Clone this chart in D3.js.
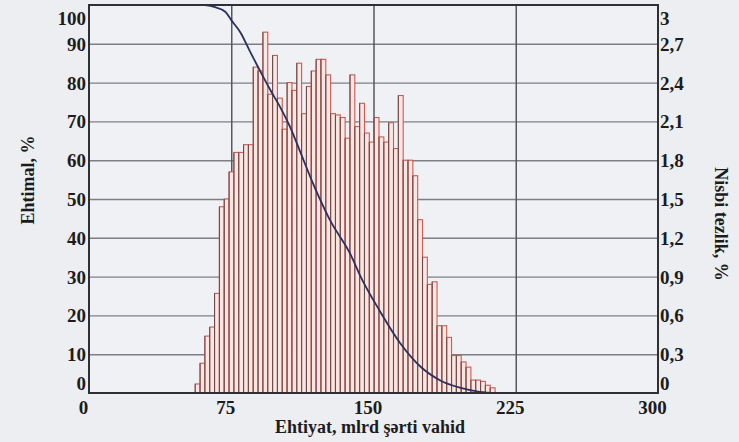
<!DOCTYPE html>
<html>
<head>
<meta charset="utf-8">
<script src="https://cdn.jsdelivr.net/npm/d3@7"></script>
<style>
    body { margin: 0; background: #eceef1; }
    svg text {
        font-family: "Liberation Serif", "Times New Roman", serif;
        font-weight: bold;
        fill: #1c1c1c;
    }
</style>
</head>
<body>
<svg id="chart" width="739" height="442"></svg>
<script>
// === DATA ===

// histogram bins (Ehtiyat, mlrd şərti vahid) -> relative frequency, %
const BIN_START = 56;
const BIN_WIDTH = 2.55;
const FREQ = [
    0.07, 0.23, 0.44, 0.51, 0.77, 1.44, 1.50, 1.71, 1.86, 1.86,
    1.92, 1.92, 2.52, 2.49, 2.79, 2.31, 2.61, 2.28, 2.04, 2.40,
    2.34, 2.55, 2.16, 2.37, 2.49, 2.58, 2.58, 2.46, 2.16, 2.15,
    2.13, 1.97, 2.46, 2.06, 2.24, 2.01, 1.94, 2.13, 1.98, 1.94,
    2.09, 1.89, 2.30, 1.80, 1.80, 1.68, 1.34, 1.05, 0.84, 0.86,
    0.52, 0.52, 0.43, 0.29, 0.29, 0.24, 0.20, 0.10, 0.10, 0.09,
    0.06, 0.04
];

// exceedance probability curve (Ehtimal, %)
const CURVE_X = [56, 61, 66, 72, 75, 80, 85, 90, 95, 101, 106, 111, 119, 122, 127, 138, 143, 153, 164, 175, 185, 196, 206, 215];
const CURVE_Y = [100, 100, 99.5, 98.2, 96.1, 92.8, 87.9, 83.2, 78.6, 73.5, 68.6, 62.6, 53, 49.7, 44.6, 35.6, 30.2, 21.4, 12.9, 6.7, 3.3, 1.3, 0.3, 0];

const X_TICKS = [0, 75, 150, 225, 300];
const LEFT_TICKS = [0, 10, 20, 30, 40, 50, 60, 70, 80, 90, 100];
const RIGHT_TICKS = [0, 0.3, 0.6, 0.9, 1.2, 1.5, 1.8, 2.1, 2.4, 2.7, 3];

const X_TITLE = 'Ehtiyat, mlrd şərti vahid';
const LEFT_TITLE = 'Ehtimal, %';
const RIGHT_TITLE = 'Nisbi tezlik, %';

// === LAYOUT ===

const W = 739, H = 442;
const margin = { top: 5, right: 81, bottom: 49, left: 89 };
const innerW = W - margin.left - margin.right;
const innerH = H - margin.top - margin.bottom;

const svg = d3.select('#chart');
const g = svg.append('g').attr('transform', `translate(${margin.left},${margin.top})`);

const x = d3.scaleLinear().domain([0, 300]).range([0, innerW]);
const yL = d3.scaleLinear().domain([0, 100]).range([innerH, 0]);
const yR = d3.scaleLinear().domain([0, 3]).range([innerH, 0]);

// plot background
g.append('rect')
    .attr('width', innerW).attr('height', innerH)
    .attr('fill', '#eff1f4');

// --- grid ---
g.append('g')
    .call(d3.axisLeft(yL).tickValues(LEFT_TICKS.filter(d => d > 0 && d < 100)).tickSize(-innerW).tickFormat(''))
    .call(a => a.select('.domain').remove())
    .selectAll('line').attr('stroke', '#7d7f84').attr('stroke-width', 1.4);

g.append('g')
    .attr('transform', `translate(0,${innerH})`)
    .call(d3.axisBottom(x).tickValues(X_TICKS.filter(d => d > 0 && d < 300)).tickSize(-innerH).tickFormat(''))
    .call(a => a.select('.domain').remove())
    .selectAll('line').attr('stroke', '#55585e').attr('stroke-width', 1.5);

// --- histogram bars ---
const bars = g.append('g');
bars.selectAll('rect')
    .data(FREQ)
    .join('rect')
    .attr('x', (d, i) => x(BIN_START + i * BIN_WIDTH))
    .attr('y', d => yR(d))
    .attr('width', x(BIN_WIDTH) - x(0))
    .attr('height', d => yR(0) - yR(d))
    .attr('fill', '#f7e6e2')
    .attr('stroke', '#c95c55')
    .attr('stroke-width', 1.1);

// darker left edge of every bar (overlapping outlines in the original)
bars.selectAll('line')
    .data(FREQ)
    .join('line')
    .attr('x1', (d, i) => x(BIN_START + i * BIN_WIDTH))
    .attr('x2', (d, i) => x(BIN_START + i * BIN_WIDTH))
    .attr('y1', d => yR(d))
    .attr('y2', innerH)
    .attr('stroke', '#6a4a4c')
    .attr('stroke-width', 1);

// --- probability curve ---
const line = d3.line()
    .x(d => x(d[0]))
    .y(d => yL(d[1]))
    .curve(d3.curveMonotoneX);

g.append('path')
    .datum(d3.zip(CURVE_X, CURVE_Y))
    .attr('d', line)
    .attr('fill', 'none')
    .attr('stroke', '#2c305c')
    .attr('stroke-width', 1.8);

// --- frame ---
g.append('rect')
    .attr('width', innerW).attr('height', innerH)
    .attr('fill', 'none')
    .attr('stroke', '#2e3035')
    .attr('stroke-width', 2);

// --- axes labels ---
// the end labels (0 and the top value) sit inside the frame in the original
const endShift = v => v === 0 ? -10 : (v === 100 || v === 3 ? 13 : 0);

const left = g.append('g')
    .call(d3.axisLeft(yL).tickValues(LEFT_TICKS).tickSize(0).tickPadding(3));
left.select('.domain').remove();
left.selectAll('text')
    .attr('font-size', 19)
    .attr('dy', d => (0.34 + endShift(d) / 19) + 'em');

const right = g.append('g')
    .attr('transform', `translate(${innerW},0)`)
    .call(d3.axisRight(yR).tickValues(RIGHT_TICKS).tickSize(0).tickPadding(2)
        .tickFormat(d => String(d3.format('.1~f')(d)).replace('.', ',')));
right.select('.domain').remove();
right.selectAll('text')
    .attr('font-size', 19)
    .attr('dy', d => (0.34 + endShift(d) / 19) + 'em');

const bottom = g.append('g')
    .attr('transform', `translate(0,${innerH})`)
    .call(d3.axisBottom(x).tickValues(X_TICKS).tickSize(0).tickPadding(6));
bottom.select('.domain').remove();
bottom.selectAll('text')
    .attr('font-size', 19)
    .attr('dx', -6)
    .attr('dy', '0.8em');

// --- titles ---
svg.append('text')
    .attr('transform', 'translate(34,180) rotate(-90)')
    .attr('text-anchor', 'middle')
    .attr('font-size', 18)
    .text(LEFT_TITLE);

svg.append('text')
    .attr('transform', 'translate(715,224) rotate(90)')
    .attr('text-anchor', 'middle')
    .attr('font-size', 18)
    .text(RIGHT_TITLE);

svg.append('text')
    .attr('x', 370).attr('y', 433)
    .attr('text-anchor', 'middle')
    .attr('font-size', 18)
    .text(X_TITLE);
</script>
</body>
</html>
